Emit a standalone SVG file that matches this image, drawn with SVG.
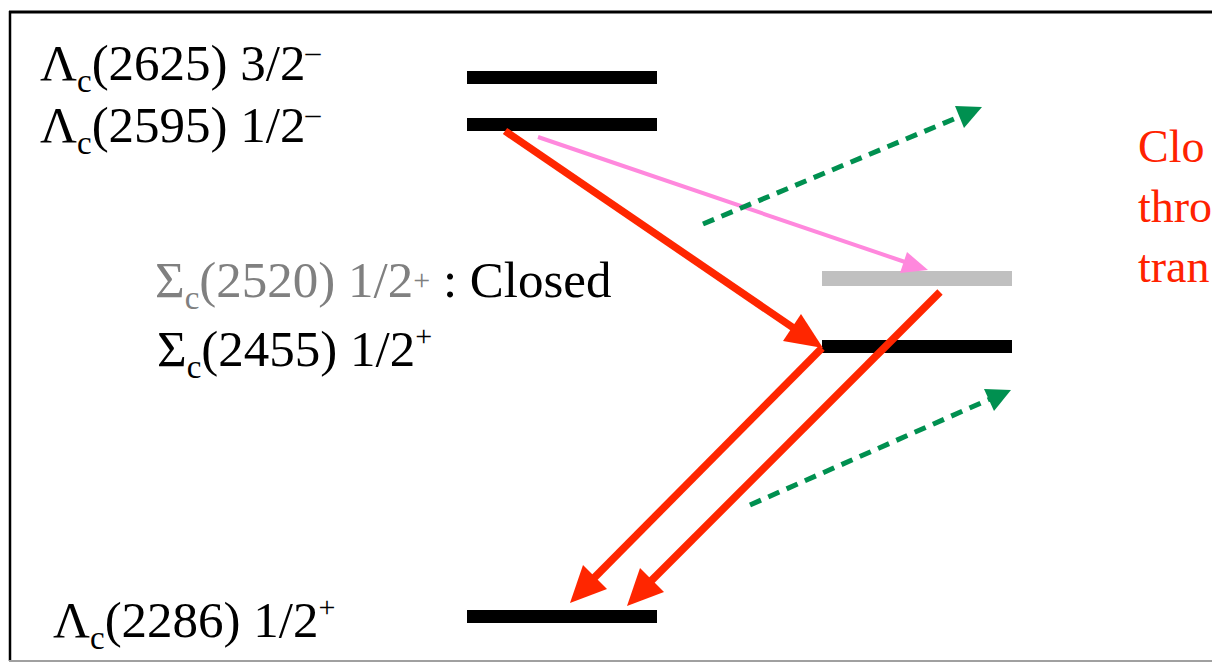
<svg xmlns="http://www.w3.org/2000/svg" width="1212" height="663" viewBox="0 0 1212 663">
<rect x="0" y="0" width="1212" height="663" fill="#fff"/>
<g id="frame">
  <line x1="9" y1="12" x2="1212" y2="12" stroke="#000" stroke-width="3"/>
  <line x1="10" y1="11" x2="10" y2="661" stroke="#000" stroke-width="2.5"/>
  <line x1="9" y1="661" x2="1212" y2="661" stroke="#A0A0A0" stroke-width="2"/>
</g>
<g id="lc2625">
  <rect x="467" y="71" width="190" height="13" fill="#000"/>
  <text x="40" y="80" font-size="51" font-family="Liberation Serif" fill="#000">Λ<tspan font-size="33" dy="12">c</tspan><tspan dy="-12">(2625) 3/2</tspan><tspan font-size="30" dy="-18">–</tspan></text>
</g>
<g id="lc2595">
  <rect x="467" y="118" width="190" height="13" fill="#000"/>
  <text x="40" y="142" font-size="51" font-family="Liberation Serif" fill="#000">Λ<tspan font-size="33" dy="12">c</tspan><tspan dy="-12">(2595) 1/2</tspan><tspan font-size="30" dy="-18">–</tspan></text>
</g>
<g id="sc2520">
  <rect x="822" y="271" width="190" height="15" fill="#C0C0C0"/>
  <text x="155" y="297" font-size="51" font-family="Liberation Serif" fill="#000"><tspan fill="#808080">Σ</tspan><tspan fill="#808080" font-size="33" dy="12">c</tspan><tspan fill="#808080" dy="-12">(2520) 1/2</tspan><tspan fill="#808080" font-size="30" dy="-7">+</tspan><tspan dy="7"> : Closed</tspan></text>
</g>
<g id="sc2455">
  <rect x="822" y="340" width="190" height="13" fill="#000"/>
  <text x="157" y="366" font-size="51" font-family="Liberation Serif" fill="#000">Σ<tspan font-size="33" dy="12">c</tspan><tspan dy="-12">(2455) 1/2</tspan><tspan font-size="30" dy="-20">+</tspan></text>
</g>
<g id="lc2286">
  <rect x="467" y="610" width="190" height="13" fill="#000"/>
  <text x="53" y="637" font-size="51" font-family="Liberation Serif" fill="#000">Λ<tspan font-size="33" dy="12">c</tspan><tspan dy="-12">(2286) 1/2</tspan><tspan font-size="30" dy="-20">+</tspan></text>
</g>
<g id="note">
  <text x="1138" y="162" font-size="46" font-family="Liberation Serif" fill="#FF2200">Clo</text>
  <text x="1138" y="222" font-size="46" font-family="Liberation Serif" fill="#FF2200">thro</text>
  <text x="1138" y="282" font-size="46" font-family="Liberation Serif" fill="#FF2200">tran</text>
</g>
<g id="connectors">
  <g stroke="#FF2600" stroke-width="7.5" fill="none">
    <line x1="505" y1="131" x2="795" y2="329"/>
    <line x1="822" y1="348" x2="594" y2="578"/>
    <line x1="940" y1="292" x2="651" y2="581"/>
  </g>
  <g fill="#FF2600">
    <polygon points="823,348 783,341 801,314"/>
    <polygon points="570,603 583,565 607,589"/>
    <polygon points="627,606 640,568 664,592"/>
  </g>
  <line x1="538" y1="137" x2="908" y2="263" stroke="#FF88DD" stroke-width="4"/>
  <polygon points="928,270 900,273 907,252" fill="#FF88DD"/>
  <g stroke="#009050" stroke-width="5" fill="none" stroke-dasharray="12 8">
    <line x1="703" y1="224" x2="961" y2="116"/>
    <line x1="750" y1="505" x2="990" y2="399"/>
  </g>
  <g fill="#009050">
    <polygon points="982,107 964,128 955,106"/>
    <polygon points="1011,390 994,411 984,389"/>
  </g>
</g>
</svg>
